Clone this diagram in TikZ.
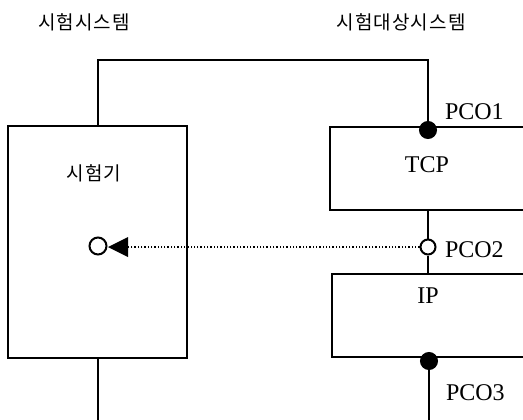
\documentclass[tikz,border=0pt]{standalone}
\usepackage{fontspec}
\setmainfont{Liberation Serif}
\newfontfamily\kr[LetterSpace=6]{Noto Sans CJK KR}
\begin{document}
\begin{tikzpicture}[x=1pt,y=-1pt,
  line width=2pt,
  box/.style={draw,rectangle,inner sep=0pt},
  lbl/.style={font=\fontsize{24}{26}\selectfont,inner sep=0pt},
  krl/.style={font=\kr\fontsize{19}{21}\selectfont,inner sep=0pt},
  fillpt/.style={circle,fill=black,draw=black,inner sep=0pt,minimum size=16pt},
  openpt/.style={circle,fill=white,draw=black,line width=2pt,inner sep=0pt,minimum size=15pt}]
\clip (0,0) rectangle (523,420);
\fill[white] (0,0) rectangle (523,420);
% boxes
\node[box,minimum width=179pt,minimum height=232pt] (tester) at (97.5,242) {};
\node[box,minimum width=210pt,minimum height=83pt] (tcp) at (435,168.5) {};
\node[box,minimum width=208pt,minimum height=83pt] (ip) at (436,315.5) {};
% texts
\node[krl] (t1) at (84,22) {시험시스템};
\node[krl] (t2) at (401,22) {시험대상시스템};
\node[krl] (t3) at (94,173) {시험기};
\node[lbl] (tcplbl) at (427,165) {TCP};
\node[lbl] (iplbl) at (428,296) {IP};
% points
\node[openpt] (pco2) at (428,247) {};
\node[openpt,minimum size=17pt] (lp) at (98,246) {};
\coordinate (arrtip) at (108,247);
% connectors
\draw (tester.north) -- ++(0,-65) coordinate (tl) -| (428,127) coordinate (c1);
\draw (tcp.south -| pco2) -- (pco2) -- (pco2 |- ip.north);
\draw (tester.south) -- ++(0,80);
\coordinate (c3) at (429,361);
\draw (c3) -- ++(0,80);
\node[fillpt] (pco1) at (428,130) {};
\node[fillpt] (pco3) at (c3) {};
\draw[line width=1.3pt,dotted] (pco2.west) -- (128,247) coordinate (arrback);
\fill (arrtip) -- (128,237) -- (128,257) -- cycle;
\node[lbl,anchor=west] (l1) at (444,112) {PCO1};
\node[lbl,anchor=west] (l2) at (444,250) {PCO2};
\node[lbl,anchor=west] (l3) at (445,393) {PCO3};
\end{tikzpicture}
\end{document}
